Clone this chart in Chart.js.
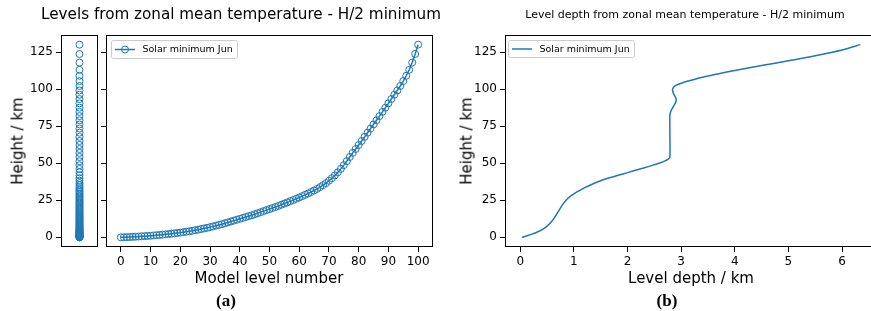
<!DOCTYPE html>
<html>
<head>
<meta charset="utf-8">
<script src="https://cdn.jsdelivr.net/npm/chart.js@4.4.1/dist/chart.umd.min.js"></script>
<style>
  html, body { margin:0; padding:0; background:#fff; }
  body { width:871px; height:311px; overflow:hidden; position:relative; font-family:"DejaVu Sans", sans-serif; color:#000; }
  canvas { position:absolute; top:0; }
  .t { position:absolute; white-space:nowrap; line-height:1; transform:translate(-50%,-50%); }
  .rot { transform:translate(-50%,-50%) rotate(-90deg); }
  .cap { font-family:"Liberation Serif","Times New Roman",serif; font-weight:bold; }
</style>
</head>
<body>
<canvas id="cA" width="105" height="300" style="left:0px"></canvas>
<canvas id="cB" width="350" height="300" style="left:90px"></canvas>
<canvas id="cC" width="440" height="300" style="left:440px"></canvas>

<div class="t" style="left:241px; top:15px; font-size:15.2px;">Levels from zonal mean temperature - H/2 minimum</div>
<div class="t" style="left:685px; top:14px; font-size:11px;">Level depth from zonal mean temperature - H/2 minimum</div>
<div class="t rot" style="left:18px; top:141px; font-size:15px;">Height / km</div>
<div class="t rot" style="left:467px; top:141px; font-size:15px;">Height / km</div>
<div class="t" style="left:269px; top:278px; font-size:15px;">Model level number</div>
<div class="t" style="left:691px; top:278px; font-size:15px;">Level depth / km</div>
<div class="t cap" style="left:226px; top:300px; font-size:17px;">(a)</div>
<div class="t cap" style="left:667px; top:300px; font-size:17px;">(b)</div>

<script>
// ---------- data ----------
const seriesLabel = 'Solar minimum Jun';

const levels = [0,1,2,3,4,5,6,7,8,9,10,11,12,13,14,15,16,17,18,19,20,21,22,23,24,25,26,27,28,29,30,
  31,32,33,34,35,36,37,38,39,40,41,42,43,44,45,46,47,48,49,50,51,52,53,54,55,56,57,58,59,60,
  61,62,63,64,65,66,67,68,69,70,71,72,73,74,75,76,77,78,79,80,81,82,83,84,85,86,87,88,89,90,
  91,92,93,94,95,96,97,98,99,100];

const heights = [0,0.07,0.15,0.24,0.34,0.45,0.57,0.70,0.83,0.97,1.12,1.28,1.45,1.63,1.82,2.02,2.23,2.45,2.70,2.95,
  3.20,3.50,3.80,4.10,4.45,4.80,5.20,5.60,6.00,6.45,6.90,7.40,7.90,8.40,8.90,9.50,10.10,10.70,11.30,11.90,
  12.50,13.10,13.70,14.30,14.90,15.60,16.30,17.00,17.70,18.40,19.10,19.80,20.50,21.20,22.00,22.80,23.60,24.40,25.20,26.00,
  26.90,27.80,28.70,29.60,30.60,31.60,32.70,33.90,35.20,36.60,38.20,39.90,41.80,43.90,46.20,48.70,51.40,54.20,57.00,59.60,
  62.30,65.00,67.80,70.60,73.40,76.20,79.00,81.80,84.65,87.50,90.40,93.30,96.20,99.10,102.10,105.40,109.00,113.00,117.90,123.70,130.00];

const depthKm = [0.03,0.06,0.10,0.15,0.20,0.25,0.30,0.35,0.40,0.45,0.50,0.55,0.60,0.65,0.70,0.75,0.80,0.85,0.90,0.95,
  1.00,1.10,1.20,1.35,1.50,1.70,1.90,2.10,2.30,2.45,2.60,2.70,2.76,2.79,2.79,2.79,2.81,2.85,2.89,2.91,
  2.89,2.86,2.84,2.85,2.90,3.00,3.17,3.40,3.70,4.00,4.50,5.00,5.50,6.00,6.34];
const depthHeight = [0,0.3,0.8,1.4,2.0,2.6,3.3,4.1,5.0,6.2,7.6,9.3,11.4,14.0,16.9,19.9,22.6,24.9,26.7,28.2,
  29.4,31.5,33.5,36.0,38.2,40.5,42.6,44.7,46.8,48.4,50.2,51.6,52.8,54.0,70.0,82.6,85.2,88.0,90.5,92.8,
  94.8,96.8,99.0,100.8,102.5,104.0,105.8,108.0,110.4,112.6,115.9,119.1,122.5,126.4,130.0];

const heightTicks = [0,25,50,75,100,125];
const levelTicks = [0,10,20,30,40,50,60,70,80,90,100];
const depthTicks = [0,1,2,3,4,5,6];

// ---------- styling ----------
const BLUE = '#1f77b4';
const tickFont = { family:'DejaVu Sans', size:12 };
const yRange = { min:-6.5, max:136.5 };

const framePlugin = {
  id:'frame',
  afterDatasetsDraw(chart){
    const {ctx, chartArea:a} = chart;
    ctx.save();
    ctx.strokeStyle = '#000';
    ctx.lineWidth = 1;
    ctx.strokeRect(Math.round(a.left)+0.5, Math.round(a.top)+0.5, Math.round(a.right-a.left)-1, Math.round(a.bottom-a.top)-1);
    ctx.restore();
  }
};

const boxLegend = {
  id:'boxLegend',
  afterDraw(chart, args, o){
    if (!o || !o.show) return;
    const ctx = chart.ctx;
    const ds = chart.data.datasets[0];
    ctx.save();
    ctx.beginPath();
    ctx.roundRect(o.x+0.5, o.y+0.5, o.w, o.h, 2);
    ctx.fillStyle = 'rgba(255,255,255,0.8)';
    ctx.fill();
    ctx.strokeStyle = '#cccccc';
    ctx.lineWidth = 1;
    ctx.stroke();
    const cy = o.y + o.h/2 + 0.5;
    ctx.strokeStyle = BLUE;
    ctx.lineWidth = 1.5;
    ctx.beginPath();
    ctx.moveTo(o.x+4, cy); ctx.lineTo(o.x+24, cy);
    ctx.stroke();
    if (o.marker){
      ctx.lineWidth = 1;
      ctx.beginPath();
      ctx.arc(o.x+14, cy, 3.5, 0, Math.PI*2);
      ctx.stroke();
    }
    ctx.fillStyle = '#000';
    ctx.font = '9.5px "DejaVu Sans"';
    ctx.textBaseline = 'middle';
    ctx.fillText(ds.label, o.x+31.5, cy+0.5);
    ctx.restore();
  }
};

function setTicks(arr){ return s => { s.ticks = arr.map(v => ({value:v})); }; }
function fixW(w){ return s => { s.width = w; }; }
function fixH(h){ return s => { s.height = h; }; }

const gridTicks = { display:true, drawOnChartArea:false, drawTicks:true, tickLength:5, color:'#000', lineWidth:1 };

// ---------- panel (a) strip ----------
new Chart(document.getElementById('cA'), {
  type:'scatter',
  data:{ datasets:[{
    label: seriesLabel,
    data: heights.map(h => ({x:0, y:h})),
    borderColor: BLUE, backgroundColor:'rgba(0,0,0,0)',
    pointRadius:3.5, pointBorderWidth:1, showLine:false
  }]},
  options:{
    responsive:false, animation:false,
    layout:{ padding:{ top:35, right:7, bottom:53, left:0 } },
    plugins:{ legend:{display:false}, tooltip:{enabled:false} },
    scales:{
      x:{ type:'linear', display:false, min:-1, max:1 },
      y:{ type:'linear', ...yRange, afterFit:fixW(61), afterBuildTicks:setTicks(heightTicks),
          border:{display:false}, grid:gridTicks,
          ticks:{ font:tickFont, color:'#000', padding:3 } }
    }
  },
  plugins:[framePlugin]
});

// ---------- panel (a) main ----------
new Chart(document.getElementById('cB'), {
  type:'line',
  data:{ datasets:[{
    label: seriesLabel,
    data: levels.map((k,i) => ({x:k, y:heights[i]})),
    borderColor: BLUE, backgroundColor:'rgba(0,0,0,0)',
    borderWidth:1.5, pointRadius:3.5, pointBorderWidth:1, tension:0
  }]},
  options:{
    responsive:false, animation:false,
    layout:{ padding:{ top:35, right:7, bottom:0, left:0 } },
    plugins:{ legend:{display:false}, tooltip:{enabled:false},
      boxLegend:{ show:true, marker:true, x:111-90, y:40, w:126, h:18 } },
    scales:{
      x:{ type:'linear', min:-5, max:105, afterFit:fixH(53), afterBuildTicks:setTicks(levelTicks),
          border:{display:false}, grid:gridTicks,
          ticks:{ font:tickFont, color:'#000', padding:3, maxRotation:0 } },
      y:{ type:'linear', ...yRange, afterFit:fixW(16), afterBuildTicks:setTicks(heightTicks),
          border:{display:false}, grid:gridTicks,
          ticks:{ display:false } }
    }
  },
  plugins:[framePlugin, boxLegend]
});

// ---------- panel (b) ----------
new Chart(document.getElementById('cC'), {
  type:'line',
  data:{ datasets:[{
    label: seriesLabel,
    data: depthKm.map((d,i) => ({x:d, y:depthHeight[i]})),
    borderColor: BLUE, backgroundColor:'rgba(0,0,0,0)',
    borderWidth:1.5, pointRadius:0, tension:0.25
  }]},
  options:{
    responsive:false, animation:false,
    layout:{ padding:{ top:35, right:2.8, bottom:0, left:0 } },
    plugins:{ legend:{display:false}, tooltip:{enabled:false},
      boxLegend:{ show:true, marker:false, x:508-440, y:40, w:126, h:17 } },
    scales:{
      x:{ type:'linear', min:-0.285, max:6.656, afterFit:fixH(53), afterBuildTicks:setTicks(depthTicks),
          border:{display:false}, grid:gridTicks,
          ticks:{ font:tickFont, color:'#000', padding:3, maxRotation:0 } },
      y:{ type:'linear', ...yRange, afterFit:fixW(65), afterBuildTicks:setTicks(heightTicks),
          border:{display:false}, grid:gridTicks,
          ticks:{ font:tickFont, color:'#000', padding:3 } }
    }
  },
  plugins:[framePlugin, boxLegend]
});
</script>
</body>
</html>
